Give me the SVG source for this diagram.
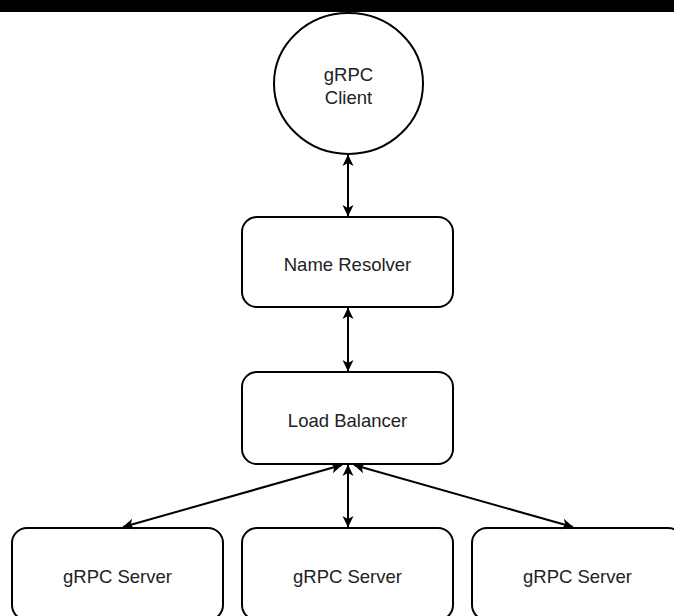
<svg xmlns="http://www.w3.org/2000/svg" width="674" height="616" viewBox="0 0 674 616">
<style>
.n{fill:#fff;stroke:#000;stroke-width:2}
.t{font-family:"Liberation Sans",Arial,sans-serif;font-size:18.5px;fill:#222;text-anchor:middle;dominant-baseline:central}
.e{stroke:#000;stroke-width:2;fill:none;marker-start:url(#a);marker-end:url(#a)}
</style>
<defs>
<marker id="a" markerUnits="userSpaceOnUse" markerWidth="12" markerHeight="12" viewBox="0 0 12 12" refX="11" refY="6" orient="auto-start-reverse">
<path d="M0,0.5 L11.5,6 L0,11.5 L3,6 Z" fill="#000"/>
</marker>
</defs>
<rect x="0" y="0" width="674" height="616" fill="#fff"/>
<g id="client">
<ellipse class="n" cx="348.5" cy="83.5" rx="74.5" ry="70.5"/>
<text class="t" x="348.5" y="74">gRPC</text>
<text class="t" x="348.5" y="97">Client</text>
</g>
<g id="resolver">
<rect class="n" x="242" y="217" width="211" height="90" rx="15"/>
<text class="t" x="347.5" y="264">Name Resolver</text>
</g>
<g id="balancer">
<rect class="n" x="242" y="372" width="211" height="92" rx="15"/>
<text class="t" x="347.5" y="420">Load Balancer</text>
</g>
<g id="server1">
<rect class="n" x="12" y="528" width="211" height="92" rx="15"/>
<text class="t" x="117.5" y="576">gRPC Server</text>
</g>
<g id="server2">
<rect class="n" x="242" y="528" width="211" height="92" rx="15"/>
<text class="t" x="347.5" y="576">gRPC Server</text>
</g>
<g id="server3">
<rect class="n" x="472" y="528" width="211" height="92" rx="15"/>
<text class="t" x="577.5" y="576">gRPC Server</text>
</g>
<g id="connectors">
<line class="e" x1="348" y1="155" x2="348" y2="216"/>
<line class="e" x1="348" y1="308" x2="348" y2="371"/>
<line class="e" x1="348" y1="465" x2="348" y2="527"/>
<line class="e" x1="342" y1="465" x2="123" y2="527"/>
<line class="e" x1="354" y1="465" x2="573" y2="527"/>
</g>
<rect x="0" y="0" width="674" height="12" fill="#000"/>
</svg>
